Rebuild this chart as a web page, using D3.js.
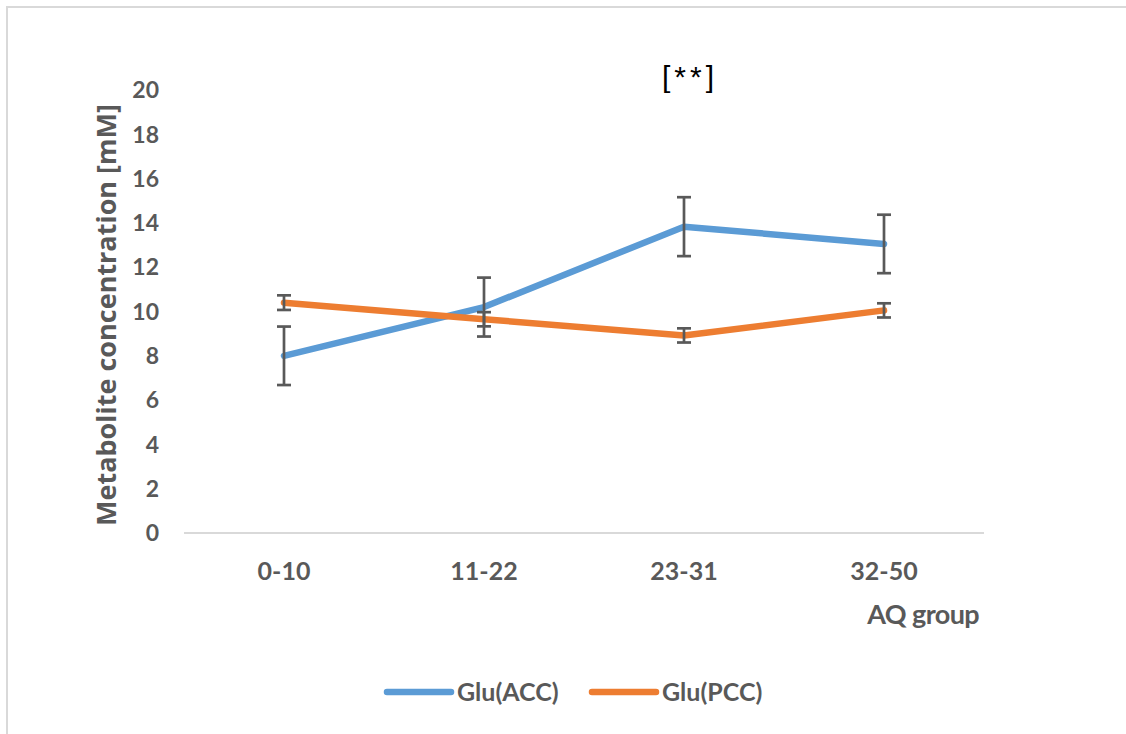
<!DOCTYPE html>
<html><head><meta charset="utf-8">
<script src="https://cdn.jsdelivr.net/npm/d3@7"></script>
<style>body{margin:0;background:#fff;overflow:hidden;} svg{display:block;}</style>
</head><body>
<script>
const categories = ["0-10", "11-22", "23-31", "32-50"];
const accValues = [8.0, 10.2, 13.83, 13.05];
const accErrors = [1.32, 1.33, 1.33, 1.32];
const pccValues = [10.4, 9.65, 8.92, 10.05];
const pccErrors = [0.33, 0.32, 0.32, 0.32];
const yTicks = [0, 2, 4, 6, 8, 10, 12, 14, 16, 18, 20];
const seriesNames = ["Glu(ACC)", "Glu(PCC)"];
const colors = ["#5B9BD5", "#ED7D31"];

const W = 1126, H = 734;
const svg = d3.select("body").append("svg").attr("width", W).attr("height", H);
svg.append("rect").attr("x", 7).attr("y", 7).attr("width", W + 10).attr("height", H + 10)
  .attr("fill", "#fff").attr("stroke", "#d9d9d9").attr("stroke-width", 2);

const x = d3.scaleBand().domain(categories).range([184, 984]);
const y = d3.scaleLinear().domain([0, 20]).range([533, 90]);
const txt = "#595959";
const tickFont = "Lato, 'Open Sans', sans-serif";

// axis line
svg.append("line").attr("x1", 184).attr("x2", 984).attr("y1", y(0)).attr("y2", y(0))
  .attr("stroke", "#d9d9d9").attr("stroke-width", 2);

// y tick labels
svg.append("g").selectAll("text").data(yTicks).join("text")
  .attr("x", 159).attr("y", d => y(d)).attr("dy", "0.36em")
  .attr("text-anchor", "end").attr("fill", txt)
  .attr("font-family", tickFont).attr("font-weight", "bold").attr("font-size", 23)
  .text(d => d);

// x tick labels
svg.append("g").selectAll("text").data(categories).join("text")
  .attr("x", d => x(d) + x.bandwidth() / 2).attr("y", 580)
  .attr("text-anchor", "middle").attr("fill", txt)
  .attr("font-family", tickFont).attr("font-weight", "bold").attr("font-size", 25)
  .text(d => d);

// axis titles
svg.append("text").attr("transform", "translate(116,315) rotate(-90)")
  .attr("text-anchor", "middle").attr("fill", txt)
  .attr("font-family", "'Open Sans', sans-serif").attr("font-weight", "bold").attr("font-size", 27)
  .text("Metabolite concentration [mM]");
svg.append("text").attr("x", 979).attr("y", 624).attr("text-anchor", "end").attr("fill", txt)
  .attr("font-family", tickFont).attr("font-weight", "bold").attr("font-size", 27)
  .attr("letter-spacing", -0.6)
  .text("AQ group");

// significance
svg.append("text").attr("x", 690).attr("y", 87).attr("text-anchor", "middle").attr("fill", "#000")
  .attr("font-family", "'Liberation Sans', sans-serif").attr("font-size", 30)
  .attr("letter-spacing", 4)
  .text("[**]");

const series = [
  {vals: accValues, errs: accErrors, color: colors[0]},
  {vals: pccValues, errs: pccErrors, color: colors[1]}
];
const cx = c => x(c) + x.bandwidth() / 2;
const line = d3.line().x(d => cx(d.c)).y(d => y(d.v));

series.forEach(s => {
  const pts = categories.map((c, i) => ({c, v: s.vals[i], e: s.errs[i]}));
  svg.append("path").datum(pts).attr("d", line).attr("fill", "none")
    .attr("stroke", s.color).attr("stroke-width", 6.5)
    .attr("stroke-linecap", "round").attr("stroke-linejoin", "round");
});
series.forEach(s => {
  const pts = categories.map((c, i) => ({c, v: s.vals[i], e: s.errs[i]}));
  const g = svg.append("g").attr("stroke", "#595959").attr("stroke-width", 2.7);
  pts.forEach(p => {
    const px = cx(p.c);
    g.append("line").attr("x1", px).attr("x2", px).attr("y1", y(p.v + p.e)).attr("y2", y(p.v - p.e));
    [p.v + p.e, p.v - p.e].forEach(v => {
      g.append("line").attr("x1", px - 7).attr("x2", px + 7).attr("y1", y(v)).attr("y2", y(v));
    });
  });
});

// legend
const legX = [387, 592];
seriesNames.forEach((n, i) => {
  svg.append("line").attr("x1", legX[i]).attr("x2", legX[i] + 64).attr("y1", 692).attr("y2", 692)
    .attr("stroke", colors[i]).attr("stroke-width", 6.5).attr("stroke-linecap", "round");
  svg.append("text").attr("x", legX[i] + 70).attr("y", 692).attr("dy", "0.36em").attr("fill", txt)
    .attr("font-family", tickFont).attr("font-weight", "bold").attr("font-size", 25)
    .text(n);
});
</script>
</body></html>
